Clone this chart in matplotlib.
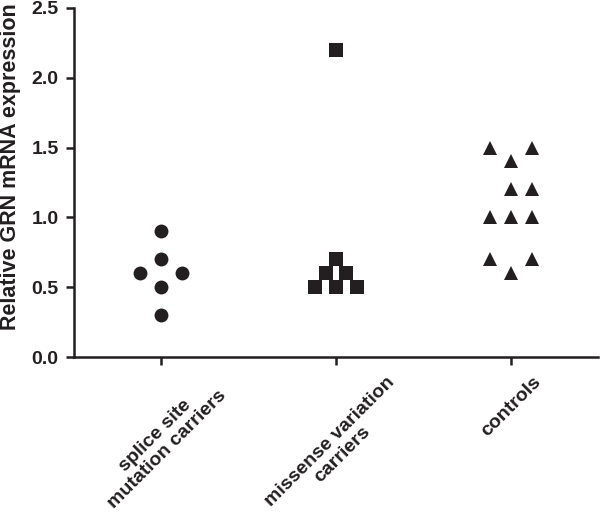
import matplotlib
matplotlib.use("Agg")
import matplotlib.pyplot as plt
import numpy as np

plt.rcParams['font.family'] = ['Liberation Sans', 'DejaVu Sans']
plt.rcParams['font.weight'] = 'bold'

# group names as printed under the x axis
groups = ["splice site\nmutation carriers", "missense variation\ncarriers", "controls"]

# relative GRN mRNA expression per group
splice_vals = [0.9, 0.7, 0.6, 0.6, 0.5, 0.3]
missense_vals = [2.2, 0.7, 0.6, 0.6, 0.5, 0.5, 0.5]
control_vals = [1.5, 1.5, 1.4, 1.2, 1.2, 1.0, 1.0, 1.0, 0.7, 0.7, 0.6]

# side-by-side slot of each point inside its column (scatter arrangement)
splice_slots = [0, 0, -2, 2, 0, 0]
missense_slots = [0, 0, -1, 1, -2, 0, 2]
control_slots = [-2, 2, 0, 0, 2, -2, 0, 2, -2, 2, 0]

ink = "#231f20"
step = 0.06

fig = plt.figure(figsize=(6, 5.22), dpi=100)
ax = fig.add_axes([0.123, 0.316, 0.874, 0.669])

series = [(splice_vals, splice_slots, "o", 10),
          (missense_vals, missense_slots, "s", 10),
          (control_vals, control_slots, "^", 10)]
for i, (vals, slots, mk, ms) in enumerate(series):
    xs = i + 1 + np.array(slots) * step
    ax.plot(xs, vals, linestyle="none", marker=mk, markersize=ms,
            color=ink, markeredgewidth=0, clip_on=False)

ax.set_xlim(0.5, 3.5)
ax.set_ylim(0, 2.5)
ax.set_yticks([0, 0.5, 1.0, 1.5, 2.0, 2.5])
ax.set_yticklabels(["0.0", "0.5", "1.0", "1.5", "2.0", "2.5"], fontsize=14, fontweight="bold")
ax.set_xticks([1, 2, 3])
ax.set_xticklabels(groups, rotation=45, fontsize=14, fontweight="bold",
                   ha="center", va="top", multialignment="center", linespacing=1.1)

ax.spines["top"].set_visible(False)
ax.spines["right"].set_visible(False)
for s in ["left", "bottom"]:
    ax.spines[s].set_linewidth(1.8)
    ax.spines[s].set_color(ink)
ax.tick_params(axis="both", width=1.8, length=6, color=ink, labelcolor=ink)
ax.tick_params(axis="y", pad=5)
ax.tick_params(axis="x", pad=6)

ax.set_ylabel("Relative GRN mRNA expression", fontsize=15.5, fontweight="bold", color=ink)
ax.yaxis.set_label_coords(-0.1, 0.544)

fig.savefig("out.png", dpi=100)
